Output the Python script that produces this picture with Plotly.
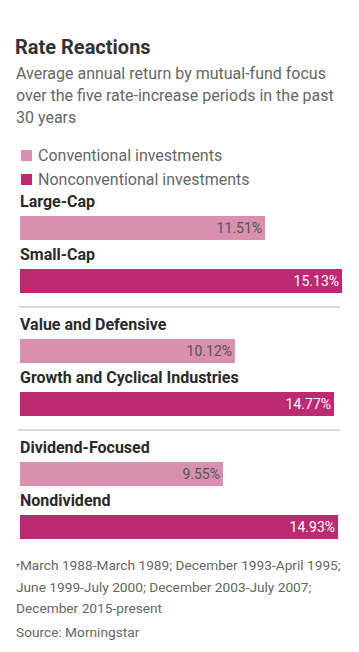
import plotly.graph_objects as go

categories = ["Large-Cap", "Small-Cap", "Value and Defensive",
              "Growth and Cyclical Industries", "Dividend-Focused", "Nondividend"]
values = [11.51, 15.13, 10.12, 14.77, 9.55, 14.93]
series = ["Conventional investments", "Nonconventional investments"]
series_idx = [0, 1, 0, 1, 0, 1]
group_idx = [0, 0, 1, 1, 2, 2]

title = "Rate Reactions"
subtitle = ["Average annual return by mutual-fund focus",
            "over the five rate-increase periods in the past",
            "30 years"]
footnote = ["<span style='font-size:9px'>*</span>March 1988-March 1989; December 1993-April 1995;",
            "June 1999-July 2000; December 2003-July 2007;",
            "December 2015-present"]
source = "Source: Morningstar"

COLORS = ["#d98fae", "#bc2a72"]
TEXT_COLORS = ["#555555", "#ffffff"]
FONT = "Roboto"

# The page body has an 8px margin; the figure is sized so it fits the 359x652 window.
PAGE_OFF = 8
VIEW_W, VIEW_H = 359, 652
FW, FH = VIEW_W - PAGE_OFF, VIEW_H - PAGE_OFF
PLOT_L, PLOT_R = 20, 342  # plot area in window pixels

def px_to_paper_x(px):
    return (px - PLOT_L) / (PLOT_R - PLOT_L)

# layout: y-axis in window-pixel units (reversed)
first_center, step, group_gap = 228, 53, 17
centers = [first_center + i * step + g * group_gap for i, g in enumerate(group_idx)]

fig = go.Figure()
for s in range(2):
    idx = [i for i in range(len(values)) if series_idx[i] == s]
    fig.add_trace(go.Bar(
        orientation="h",
        x=[values[i] for i in idx],
        y=[centers[i] for i in idx],
        width=24,
        name=series[s],
        marker=dict(color=COLORS[s], line=dict(width=0)),
        text=[f"{values[i]:.2f}%" for i in idx],
        textposition="inside",
        insidetextanchor="end",
        textfont=dict(family=FONT, size=14, color=TEXT_COLORS[s]),
        hoverinfo="skip",
        showlegend=False,
    ))

annotations = []
shapes = []
for c, lab in zip(centers, categories):
    annotations.append(dict(x=0, y=c - 27, xref="x", yref="y", xshift=-2, text=lab,
                            showarrow=False, xanchor="left", yanchor="middle",
                            font=dict(family=FONT, size=16, color="#2a2a2a", weight="bold")))
annotations.append(dict(x=0, y=47, xref="x", yref="y", xshift=-7, text=title, showarrow=False,
                        xanchor="left", yanchor="middle",
                        font=dict(family=FONT, size=20, color="#333333", weight="bold")))
for k, line in enumerate(subtitle):
    annotations.append(dict(x=0, y=73 + k * 22, xref="x", yref="y", xshift=-6, text=line,
                            showarrow=False, xanchor="left", yanchor="middle",
                            font=dict(family=FONT, size=16, color="#666666")))
for k, line in enumerate(footnote):
    annotations.append(dict(x=0, y=565 + k * 21.5, xref="x", yref="y", xshift=-6, text=line,
                            showarrow=False, xanchor="left", yanchor="middle",
                            font=dict(family=FONT, size=13.7, color="#666666")))
annotations.append(dict(x=0, y=632, xref="x", yref="y", xshift=-6, text=source,
                        showarrow=False, xanchor="left", yanchor="middle",
                        font=dict(family=FONT, size=13.7, color="#666666")))

# legend (drawn with shapes + text)
for s in range(2):
    cy = 155.5 + s * 24
    shapes.append(dict(type="rect", xref="paper", yref="y",
                       x0=px_to_paper_x(21), x1=px_to_paper_x(32),
                       y0=cy - 5.5, y1=cy + 5.5,
                       fillcolor=COLORS[s], line=dict(width=0)))
    annotations.append(dict(x=px_to_paper_x(36), y=cy - 0.5, xref="paper", yref="y",
                            text=series[s], showarrow=False, xanchor="left", yanchor="middle",
                            font=dict(family=FONT, size=16, color="#666666")))

for g in range(2):
    last = max(i for i in range(len(values)) if group_idx[i] == g)
    yy = centers[last] + 26
    shapes.append(dict(type="line", xref="paper", yref="y",
                       x0=px_to_paper_x(18), x1=px_to_paper_x(340),
                       y0=yy, y1=yy, line=dict(color="#cccccc", width=1.5)))

fig.update_layout(
    width=FW, height=FH,
    margin=dict(l=PLOT_L - PAGE_OFF, r=VIEW_W - PLOT_R, t=0, b=0),
    paper_bgcolor="white", plot_bgcolor="white",
    xaxis=dict(range=[0, max(values)], visible=False, fixedrange=True),
    yaxis=dict(range=[VIEW_H, PAGE_OFF], visible=False, fixedrange=True),
    bargap=0,
    barmode="overlay",
    showlegend=False,
    annotations=annotations,
    shapes=shapes,
)

fig.write_html("out.html")
